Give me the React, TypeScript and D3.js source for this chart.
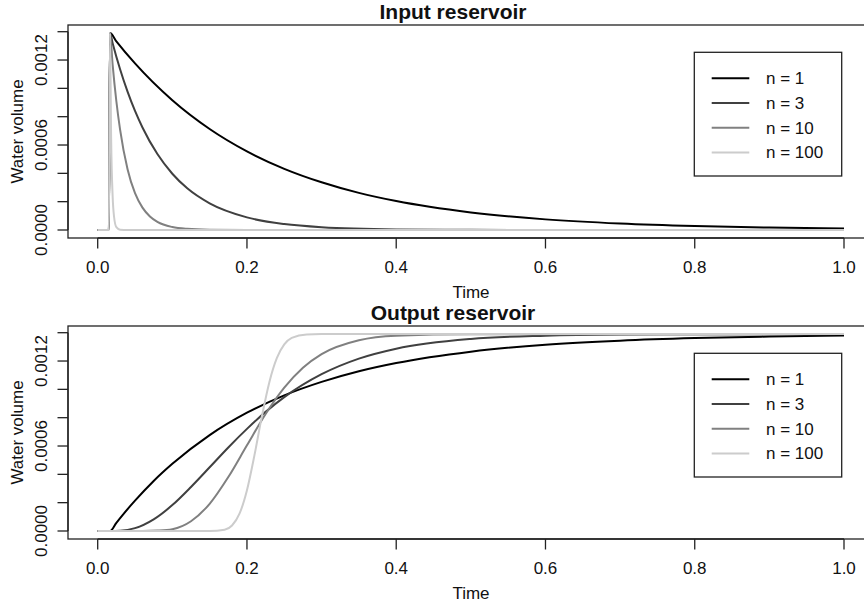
import React, { useEffect, useRef } from "react";
import * as d3 from "d3";

// series labels and grey levels
const labels = ["n = 1", "n = 3", "n = 10", "n = 100"];
const colors = ["#000000", "#404040", "#808080", "#cccccc"];

const xTicks = [0, 0.2, 0.4, 0.6, 0.8, 1.0];
const yTicks = [0, 0.0002, 0.0004, 0.0006, 0.0008, 0.001, 0.0012, 0.0014];
const yLabelled = [0, 0.0006, 0.0012];

// Input reservoir
const inT1 = [0, 0.015, 0.0165, 0.025, 0.05, 0.1, 0.15, 0.2, 0.25, 0.3, 0.35, 0.4, 0.5, 0.6, 0.7, 0.8, 0.9, 1.0];
const inV1 = [0, 0, 0.00139, 0.001332, 0.001176, 0.000916, 0.000713, 0.000555, 0.000432, 0.000337, 0.000262, 0.000204, 0.000124, 0.000075, 0.0000456, 0.0000277, 0.0000168, 0.0000102];
const inT3 = [0, 0.015, 0.0165, 0.02, 0.03, 0.04, 0.05, 0.06, 0.08, 0.1, 0.12, 0.15, 0.2, 0.25, 0.3, 0.4, 0.5, 0.6, 1.0];
const inV3 = [0, 0, 0.00139, 0.001319, 0.001135, 0.000977, 0.000841, 0.000724, 0.000536, 0.000397, 0.000294, 0.000188, 0.000089, 0.000042, 0.00002, 0.0000044, 0.000001, 0, 0];
const inT10 = [0, 0.015, 0.0165, 0.02, 0.025, 0.03, 0.04, 0.05, 0.06, 0.07, 0.08, 0.1, 0.12, 0.15, 0.2, 1.0];
const inV10 = [0, 0, 0.00139, 0.001167, 0.000909, 0.000708, 0.000429, 0.00026, 0.000158, 0.000096, 0.000058, 0.000021, 0.000008, 0.000002, 0, 0];
const inT100 = [0, 0.015, 0.0165, 0.018, 0.02, 0.022, 0.025, 0.03, 0.04, 1.0];
const inV100 = [0, 0, 0.00139, 0.00065, 0.00024, 0.00009, 0.00002, 0.000002, 0, 0];

// Output reservoir
const outT1 = [0, 0.0165, 0.025, 0.035, 0.05, 0.075, 0.1, 0.15, 0.2, 0.25, 0.3, 0.35, 0.4, 0.5, 0.6, 0.7, 0.8, 0.9, 1.0];
const outV1 = [0, 0, 0.0000578, 0.000123, 0.000214, 0.000353, 0.000474, 0.000677, 0.000835, 0.000958, 0.001053, 0.001128, 0.001186, 0.001266, 0.001315, 0.001344, 0.001362, 0.001373, 0.00138];
const outT3 = [0, 0.0165, 0.03, 0.05, 0.075, 0.1, 0.125, 0.15, 0.175, 0.2, 0.225, 0.25, 0.3, 0.35, 0.4, 0.5, 0.6, 0.7, 0.8, 1.0];
const outV3 = [0, 0, 0.0000017, 0.00002, 0.000082, 0.000183, 0.000311, 0.00045, 0.00059, 0.000721, 0.000841, 0.000945, 0.001107, 0.001217, 0.001287, 0.001356, 0.001379, 0.001387, 0.001389, 0.00139];
const outT10 = [0, 0.0165, 0.06, 0.08, 0.1, 0.125, 0.15, 0.175, 0.2, 0.225, 0.25, 0.275, 0.3, 0.35, 0.4, 0.5, 1.0];
const outV10 = [0, 0, 0, 0.000003, 0.000013, 0.000069, 0.000192, 0.000381, 0.000605, 0.000826, 0.001012, 0.001153, 0.001249, 0.001347, 0.001379, 0.001389, 0.00139];
const outT100 = [0, 0.0165, 0.15, 0.17, 0.18, 0.19, 0.2, 0.21, 0.22, 0.23, 0.24, 0.25, 0.26, 0.28, 0.3, 1.0];
const outV100 = [0, 0, 0, 0.000009, 0.000039, 0.000122, 0.000288, 0.000534, 0.000809, 0.001051, 0.00122, 0.001317, 0.001363, 0.001388, 0.00139, 0.00139];

const FONT = "'Liberation Sans', Arial, Helvetica, sans-serif";

export default function App() {
  const svgRef = useRef<SVGSVGElement>(null);

  useEffect(() => {
    document.body.style.margin = "0";
    const svg = d3.select(svgRef.current);
    svg.selectAll("*").remove();

    const zip = (t: number[], v: number[]) => t.map((x, i) => [x, v[i]] as [number, number]);

    const panels = [
      { title: "Input reservoir", series: [zip(inT1, inV1), zip(inT3, inV3), zip(inT10, inV10), zip(inT100, inV100)] },
      { title: "Output reservoir", series: [zip(outT1, outV1), zip(outT3, outV3), zip(outT10, outV10), zip(outT100, outV100)] },
    ];

    const left = 68;
    const right = 874;
    const x = d3.scaleLinear().domain([0, 1]).range([97.7, 844]);
    const stroke = "#222";

    panels.forEach((p, pi) => {
      const off = pi * 301;
      const top = 25 + off;
      const bottom = 238 + off;
      const y = d3.scaleLinear().domain([0, 0.0014]).range([230 + off, 31.7 + off]);
      const g = svg.append("g");

      // curves
      const line = d3
        .line<[number, number]>()
        .x((d) => x(d[0]))
        .y((d) => y(d[1]))
        .curve(d3.curveMonotoneX);
      p.series.forEach((s, i) => {
        g.append("path")
          .attr("d", line(s))
          .attr("fill", "none")
          .attr("stroke", colors[i])
          .attr("stroke-width", 2);
      });

      // box
      g.append("rect")
        .attr("x", left)
        .attr("y", top)
        .attr("width", right - left)
        .attr("height", bottom - top)
        .attr("fill", "none")
        .attr("stroke", stroke)
        .attr("stroke-width", 1.3);

      // x axis
      g.append("line")
        .attr("x1", x(0)).attr("x2", x(1))
        .attr("y1", bottom).attr("y2", bottom)
        .attr("stroke", stroke).attr("stroke-width", 1.3);
      xTicks.forEach((t) => {
        g.append("line")
          .attr("x1", x(t)).attr("x2", x(t))
          .attr("y1", bottom).attr("y2", bottom + 10.5)
          .attr("stroke", stroke).attr("stroke-width", 1.3);
        g.append("text")
          .attr("x", x(t))
          .attr("y", 272.7 + off)
          .attr("text-anchor", "middle")
          .style("font-family", FONT)
          .style("font-size", "17px")
          .attr("fill", "#111")
          .text(d3.format(".1f")(t));
      });

      // y axis
      g.append("line")
        .attr("x1", left).attr("x2", left)
        .attr("y1", y(0)).attr("y2", y(0.0014))
        .attr("stroke", stroke).attr("stroke-width", 1.3);
      yTicks.forEach((t) => {
        g.append("line")
          .attr("x1", left - 10.5).attr("x2", left)
          .attr("y1", y(t)).attr("y2", y(t))
          .attr("stroke", stroke).attr("stroke-width", 1.3);
      });
      yLabelled.forEach((t) => {
        g.append("text")
          .attr("transform", `translate(46.7, ${y(t)}) rotate(-90)`)
          .attr("text-anchor", "middle")
          .style("font-family", FONT)
          .style("font-size", "17px")
          .attr("fill", "#111")
          .text(d3.format(".4f")(t));
      });

      // axis titles
      g.append("text")
        .attr("transform", `translate(22.7, ${(top + bottom) / 2}) rotate(-90)`)
        .attr("text-anchor", "middle")
        .style("font-family", FONT)
        .style("font-size", "17px")
        .attr("fill", "#111")
        .text("Water volume");
      g.append("text")
        .attr("x", (left + right) / 2)
        .attr("y", 297.5 + off)
        .attr("text-anchor", "middle")
        .style("font-family", FONT)
        .style("font-size", "17px")
        .attr("fill", "#111")
        .text("Time");
      g.append("text")
        .attr("x", 453)
        .attr("y", 18.5 + off)
        .attr("text-anchor", "middle")
        .style("font-family", FONT)
        .style("font-size", "21px")
        .style("font-weight", "bold")
        .attr("fill", "#111")
        .text(p.title);

      // legend
      const lg = g.append("g").attr("transform", `translate(694.3, ${52.3 + off})`);
      lg.append("rect")
        .attr("width", 147.4)
        .attr("height", 123.7)
        .attr("fill", "white")
        .attr("stroke", stroke)
        .attr("stroke-width", 1.3);
      labels.forEach((lab, i) => {
        const cy = 26 + i * 24.7;
        lg.append("line")
          .attr("x1", 17.4).attr("x2", 55)
          .attr("y1", cy).attr("y2", cy)
          .attr("stroke", colors[i])
          .attr("stroke-width", 2);
        lg.append("text")
          .attr("x", 71.7)
          .attr("y", cy + 6.1)
          .style("font-family", FONT)
          .style("font-size", "17px")
          .attr("fill", "#111")
          .text(lab);
      });
    });
  }, []);

  return <svg ref={svgRef} width={864} height={602} style={{ display: "block" }}></svg>;
}
